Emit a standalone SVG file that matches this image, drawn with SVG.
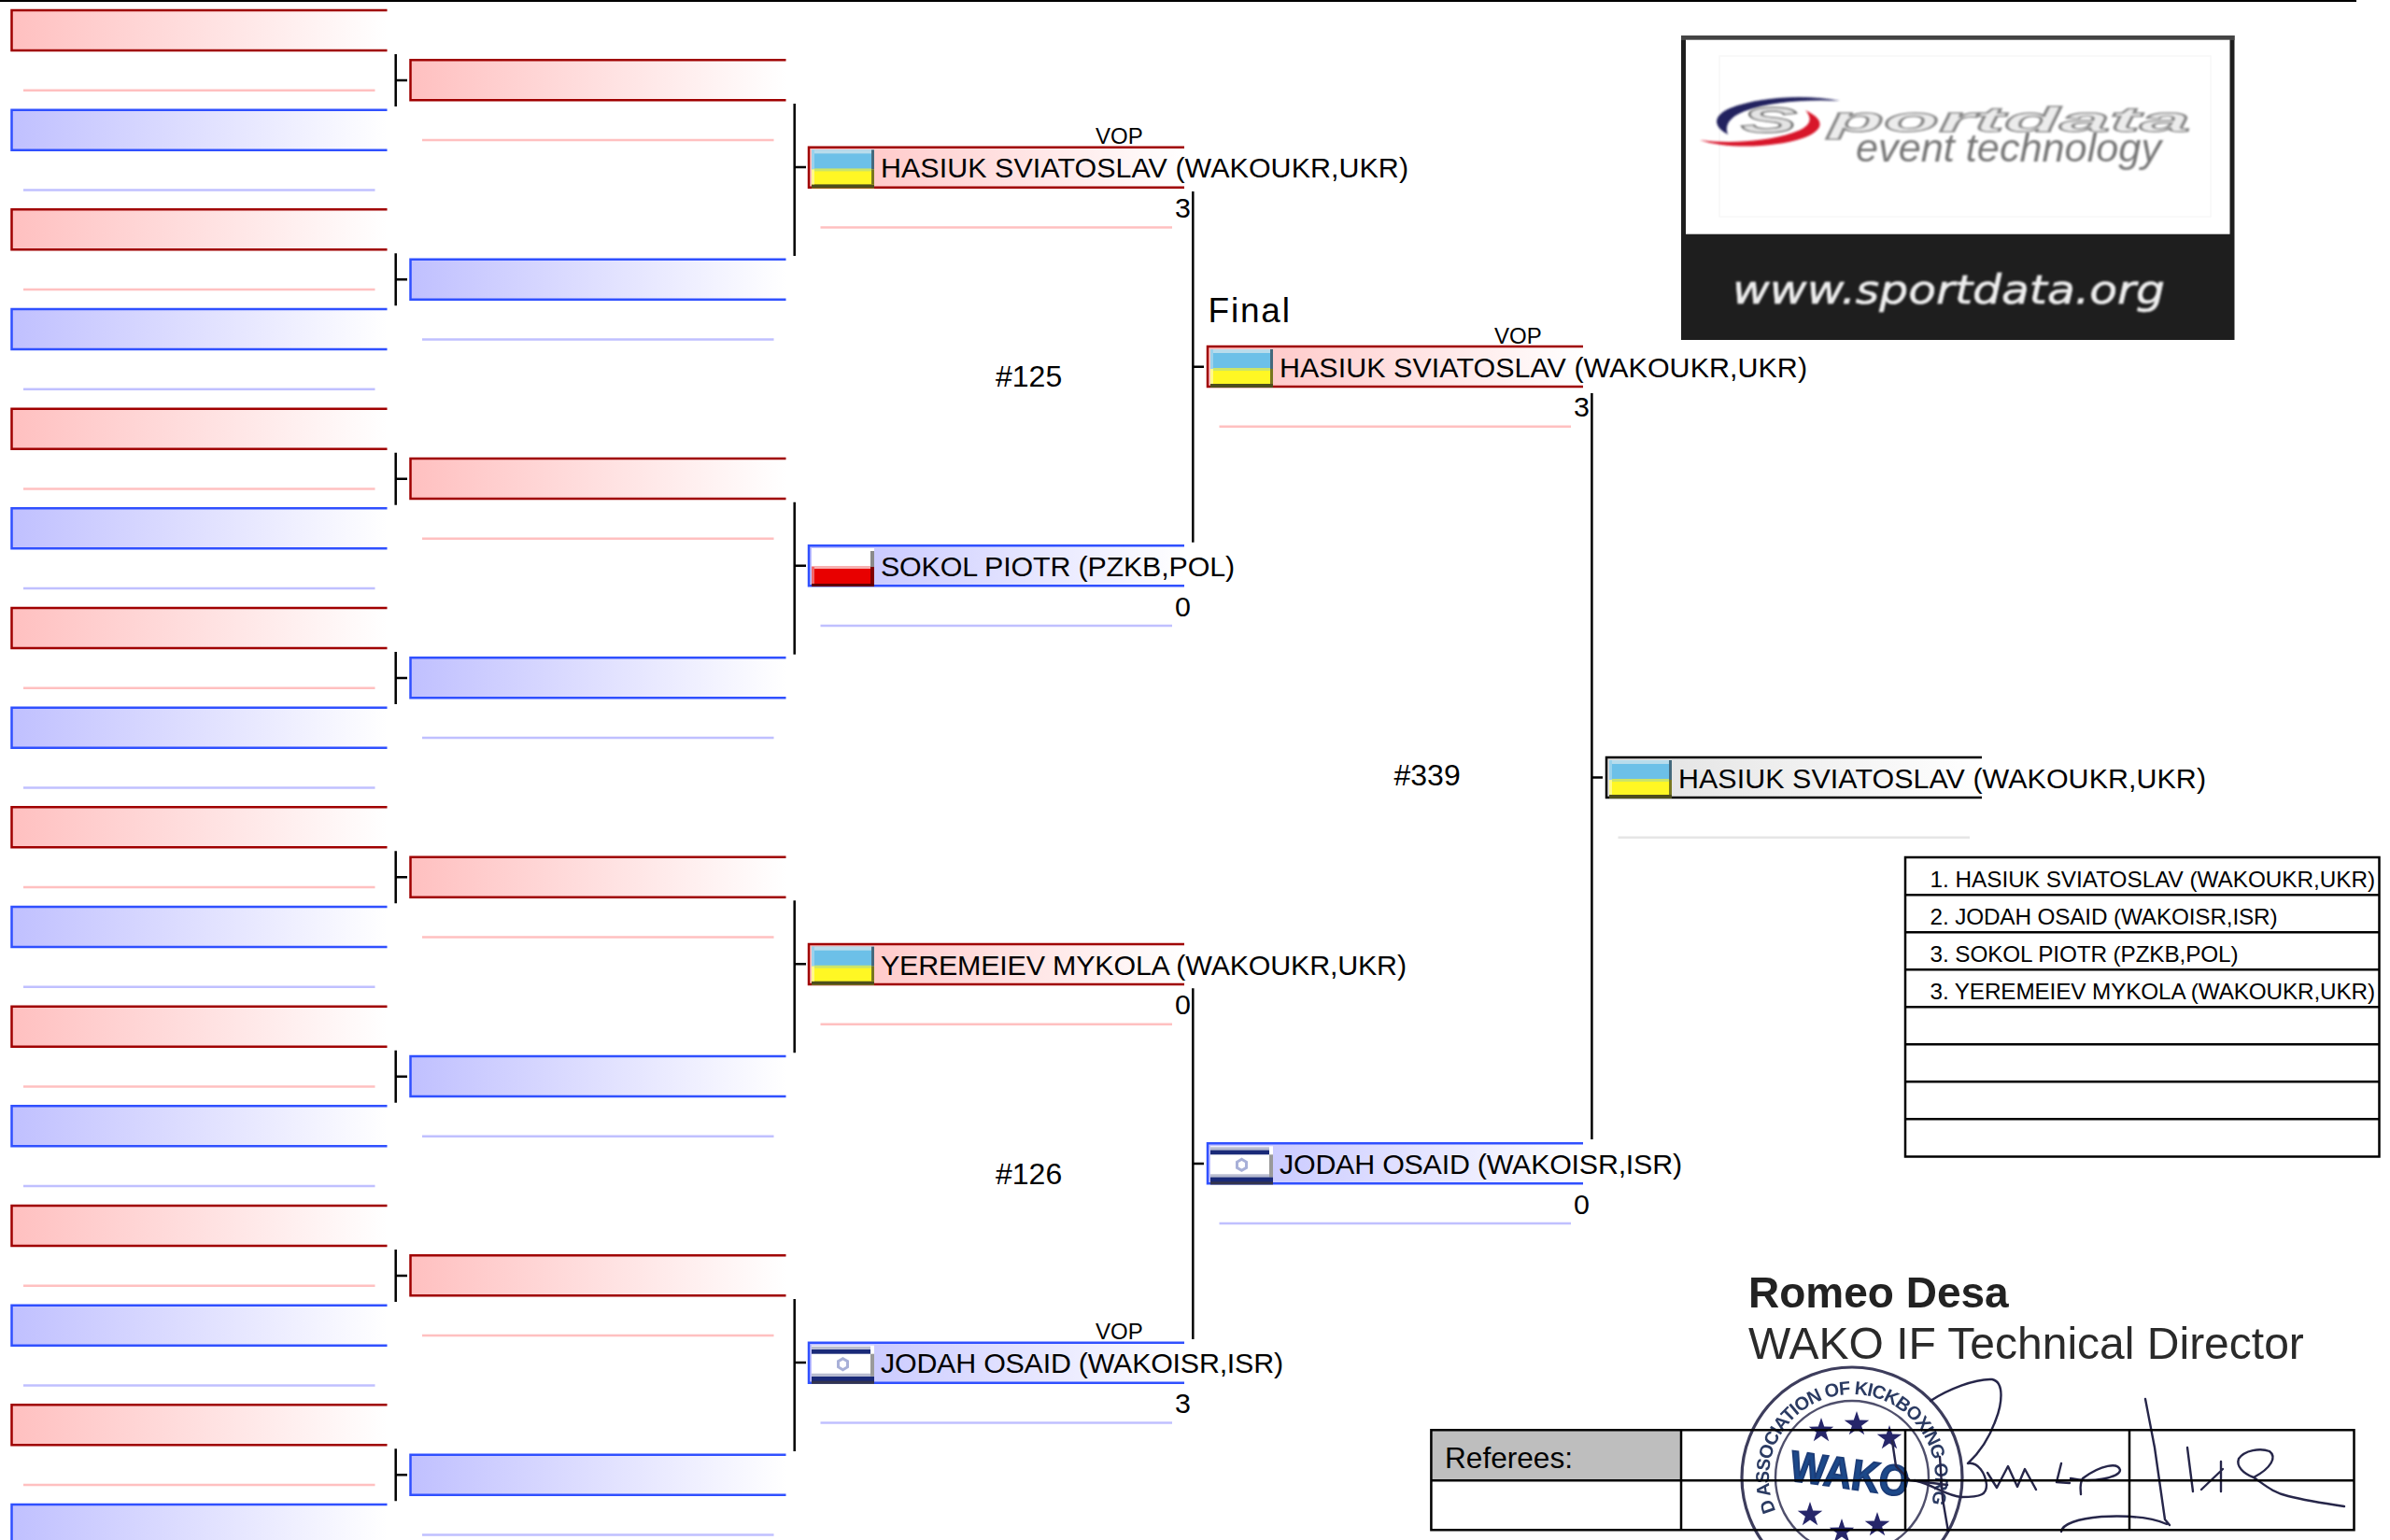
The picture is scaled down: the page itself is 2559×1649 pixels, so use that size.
<svg xmlns="http://www.w3.org/2000/svg" width="2559" height="1649" viewBox="0 0 2559 1649">
<style>
text{font-family:"Liberation Sans",Arial,sans-serif;fill:#000}
.n{font-size:30.4px}
.m{font-size:32px}
.v{font-size:24px}
.t{font-size:24.3px}
.b{fill:none;stroke-width:2.5}
.red{stroke:#a00000}
.blu{stroke:#3050ff}
.blk{stroke:#000}
.ul{stroke-width:2.5;fill:none}
.c{stroke:#000;stroke-width:2.5;fill:none}
.sig{fill:none;stroke:#26264a;stroke-width:2.4;stroke-linecap:round;stroke-linejoin:round}
</style>
<defs>
<linearGradient id="gr"><stop offset="0" stop-color="#ffc0c0"/><stop offset="1" stop-color="#fff"/></linearGradient>
<linearGradient id="gb"><stop offset="0" stop-color="#c0c0ff"/><stop offset="1" stop-color="#fff"/></linearGradient>
<linearGradient id="gk"><stop offset="0" stop-color="#e0e0e0"/><stop offset="1" stop-color="#fff"/></linearGradient>
<filter id="soft" x="-5%" y="-5%" width="110%" height="110%"><feGaussianBlur stdDeviation="0.9"/></filter>
<filter id="soft2" x="-5%" y="-5%" width="110%" height="110%"><feGaussianBlur stdDeviation="0.6"/></filter>
<g id="rb"><rect width="402" height="43" fill="url(#gr)"/><path class="b red" d="M402,0H0V43H402"/><path class="ul" stroke="#ffc0c0" d="M12.5,85.7H389"/></g>
<g id="bb"><rect width="402" height="43" fill="url(#gb)"/><path class="b blu" d="M402,0H0V43H402"/><path class="ul" stroke="#c0c0ff" d="M12.5,85.7H389"/></g>
<g id="kb"><rect width="402" height="43" fill="url(#gk)"/><path class="b blk" d="M402,0H0V43H402"/><path class="ul" stroke="#e6e6e6" d="M12.5,85.7H389"/></g>
<g id="ua">
<rect width="67" height="21" fill="#6cc0e8"/><rect y="21" width="67" height="20" fill="#fff724"/>
<rect width="67" height="4" fill="#b8dcec"/><rect y="20" width="67" height="3" fill="#cce468"/>
<rect y="37" width="67" height="4" fill="#4e4e1c"/>
<rect x="64" width="3" height="21" fill="#44697c"/><rect x="64" y="21" width="3" height="16" fill="#77771f"/>
<rect width="3" height="21" fill="#9ad2ec"/><rect y="21" width="3" height="16" fill="#fff98a"/>
</g>
<g id="pl">
<rect width="67" height="20" fill="#fff"/><rect y="20" width="67" height="21" fill="#e80000"/>
<rect y="19" width="67" height="3" fill="#f6b0b0"/>
<rect y="38" width="67" height="3" fill="#600000"/>
<rect x="63" y="3" width="4" height="17" fill="#8a8a8a"/><rect x="63" y="20" width="4" height="18" fill="#800000"/>
<rect y="20" width="3" height="18" fill="#f06868"/>
</g>
<g id="il">
<rect width="67" height="41" fill="#fff"/>
<rect y="4" width="63" height="5" fill="#1a2a78"/><rect y="1" width="63" height="3" fill="#b8bcd0"/>
<rect y="33" width="67" height="8" fill="#1a2a78"/><rect y="30" width="63" height="3" fill="#b8bcd0"/><rect y="38" width="67" height="3" fill="#33344e"/>
<rect x="63" y="9" width="4" height="24" fill="#9a9a9a"/>
<path d="M33.5,14l5,3v6l-5,3l-5,-3v-6z" fill="none" stroke="#a8b0d8" stroke-width="3"/>
</g>
<polygon id="star" points="0,-14 3.2,-4.4 13.3,-4.3 5.1,1.7 8.2,11.3 0,5.4 -8.2,11.3 -5.1,1.7 -13.3,-4.3 -3.2,-4.4" fill="#27276a"/>
</defs>
<rect width="2559" height="1649" fill="#fff"/>
<rect id="top-rule" width="2523" height="2" fill="#000"/>

<g id="logo">
<rect x="1800" y="38" width="592.5" height="326" fill="#1e1e1e"/>
<rect x="1800" y="38" width="592.5" height="5" fill="#444"/>
<rect x="1805" y="42.7" width="582.5" height="208" fill="#fff"/>
<rect x="1841" y="60" width="526" height="172" fill="none" stroke="#f8f8f8" stroke-width="1.5"/>
<g filter="url(#soft)">
<path d="M1970,108C1935,101 1885,103 1852,116C1836,123 1832,134 1850,144C1846,134 1852,125 1868,119C1895,109 1935,106 1970,108Z" fill="#22225e"/>
<path d="M1820,150C1850,160 1900,158 1930,148C1950,141 1958,130 1933,118C1942,128 1938,136 1920,142C1890,152 1850,154 1820,150Z" fill="#d8142a"/>
<text x="1864" y="142" font-size="38" font-weight="bold" font-style="italic" textLength="60" lengthAdjust="spacingAndGlyphs" style="fill:#e4e4e4;stroke:#777;stroke-width:1.3">S</text>
<text x="1958" y="141" font-size="36" font-weight="bold" font-style="italic" textLength="387" lengthAdjust="spacingAndGlyphs" style="fill:#ececec;stroke:#8a8a8a;stroke-width:1.4">portdata</text>
<text x="1987" y="173" font-size="43" font-style="italic" textLength="327" lengthAdjust="spacingAndGlyphs" style="fill:#777">event technology</text>
<text x="1855" y="325" font-size="42" textLength="463" lengthAdjust="spacingAndGlyphs" style="font-family:'DejaVu Sans',sans-serif;font-style:oblique;fill:#eee;stroke:#eee;stroke-width:.6">www.sportdata.org</text>
</g>
</g>

<g id="connectors">
<path class="c" d="M423.7,58V114M423.7,86H436M423.7,271.3V327.3M423.7,299.3H436M423.7,484.7V540.7M423.7,512.7H436M423.7,698V754M423.7,726H436M423.7,911.3V967.3M423.7,939.3H436M423.7,1124.7V1180.7M423.7,1152.7H436M423.7,1338V1394M423.7,1366H436M423.7,1551.3V1607.3M423.7,1579.3H436"/>
<path class="c" d="M850.7,111V274M850.7,179H863M850.7,537.7V700.7M850.7,605.7H863M850.7,964.3V1127.3M850.7,1032.3H863M850.7,1391V1554M850.7,1459H863"/>
<path class="c" d="M1277.3,205V580.7M1277.3,392.7H1289M1277.3,1058.3V1434M1277.3,1246H1289"/>
<path class="c" d="M1704.4,421V1220M1704.4,832.5H1716"/>
</g>

<g id="round1">
<use id="r1-1" href="#rb" x="12.5" y="11"/><use id="r1-2" href="#bb" x="12.5" y="117.7"/>
<use id="r1-3" href="#rb" x="12.5" y="224.3"/><use id="r1-4" href="#bb" x="12.5" y="331"/>
<use id="r1-5" href="#rb" x="12.5" y="437.7"/><use id="r1-6" href="#bb" x="12.5" y="544.3"/>
<use id="r1-7" href="#rb" x="12.5" y="651"/><use id="r1-8" href="#bb" x="12.5" y="757.7"/>
<use id="r1-9" href="#rb" x="12.5" y="864.3"/><use id="r1-10" href="#bb" x="12.5" y="971"/>
<use id="r1-11" href="#rb" x="12.5" y="1077.7"/><use id="r1-12" href="#bb" x="12.5" y="1184.3"/>
<use id="r1-13" href="#rb" x="12.5" y="1291"/><use id="r1-14" href="#bb" x="12.5" y="1397.7"/>
<use id="r1-15" href="#rb" x="12.5" y="1504.3"/><use id="r1-16" href="#bb" x="12.5" y="1611"/>
</g>
<g id="round2">
<use id="r2-1" href="#rb" x="439.5" y="64.3"/><use id="r2-2" href="#bb" x="439.5" y="277.7"/>
<use id="r2-3" href="#rb" x="439.5" y="491"/><use id="r2-4" href="#bb" x="439.5" y="704.3"/>
<use id="r2-5" href="#rb" x="439.5" y="917.7"/><use id="r2-6" href="#bb" x="439.5" y="1131"/>
<use id="r2-7" href="#rb" x="439.5" y="1344.3"/><use id="r2-8" href="#bb" x="439.5" y="1557.7"/>
</g>

<g id="r3-1"><use href="#rb" x="866" y="157.7"/><use href="#ua" x="869" y="160.4"/>
<text class="v" x="1173" y="154.3">VOP</text><text class="n" x="943" y="190.4" textLength="565">HASIUK SVIATOSLAV (WAKOUKR,UKR)</text><text class="n" x="1258" y="232.7">3</text></g>
<g id="r3-2"><use href="#bb" x="866" y="584.3"/><use href="#pl" x="869" y="587"/>
<text class="n" x="943" y="617" textLength="379">SOKOL PIOTR (PZKB,POL)</text><text class="n" x="1258" y="660">0</text></g>
<g id="r3-3"><use href="#rb" x="866" y="1011"/><use href="#ua" x="869" y="1013.7"/>
<text class="n" x="943" y="1043.7" textLength="563">YEREMEIEV MYKOLA (WAKOUKR,UKR)</text><text class="n" x="1258" y="1086">0</text></g>
<g id="r3-4"><use href="#bb" x="866" y="1437.7"/><use href="#il" x="869" y="1440.7"/>
<text class="v" x="1173" y="1434.3">VOP</text><text class="n" x="943" y="1470.4" textLength="431">JODAH OSAID (WAKOISR,ISR)</text><text class="n" x="1258" y="1512.7">3</text></g>

<text id="m125" class="m" x="1066" y="414">#125</text>
<text id="m126" class="m" x="1066" y="1267.5">#126</text>
<text id="m339" class="m" x="1492.5" y="841">#339</text>
<text id="final-label" x="1293.5" y="345" font-size="37" letter-spacing="1.8">Final</text>

<g id="r4-1"><use href="#rb" x="1293" y="371"/><use href="#ua" x="1296" y="374"/>
<text class="v" x="1600" y="367.6">VOP</text><text class="n" x="1370" y="403.7" textLength="565">HASIUK SVIATOSLAV (WAKOUKR,UKR)</text><text class="n" x="1685" y="446">3</text></g>
<g id="r4-2"><use href="#bb" x="1293" y="1224.3"/><use href="#il" x="1296" y="1227.3"/>
<text class="n" x="1370" y="1257" textLength="431">JODAH OSAID (WAKOISR,ISR)</text><text class="n" x="1685" y="1300">0</text></g>

<g id="winner"><use href="#kb" x="1720" y="811"/><use href="#ua" x="1723" y="814"/>
<text class="n" x="1797" y="843.7" textLength="565">HASIUK SVIATOSLAV (WAKOUKR,UKR)</text></g>

<g id="ranking">
<rect x="2040" y="918" width="507.5" height="320.5" fill="#fff" stroke="#000" stroke-width="2.5"/>
<path class="c" d="M2040,958.3H2547.5M2040,998.3H2547.5M2040,1038.3H2547.5M2040,1078.3H2547.5M2040,1118.3H2547.5M2040,1158.3H2547.5M2040,1198.3H2547.5"/>
<text class="t" x="2066.6" y="950" textLength="476.5">1. HASIUK SVIATOSLAV (WAKOUKR,UKR)</text>
<text class="t" x="2066.6" y="990" textLength="372">2. JODAH OSAID (WAKOISR,ISR)</text>
<text class="t" x="2066.6" y="1030" textLength="330">3. SOKOL PIOTR (PZKB,POL)</text>
<text class="t" x="2066.6" y="1070" textLength="476.5">3. YEREMEIEV MYKOLA (WAKOUKR,UKR)</text>
</g>

<g id="signature">
<rect x="1532.4" y="1531.3" width="267.6" height="54" fill="#bebebe"/>
<g filter="url(#soft2)">
<text x="1872" y="1400" font-size="46" font-weight="bold" style="fill:#222">Romeo Desa</text>
<text x="1872" y="1455" font-size="48" style="fill:#2a2a2a">WAKO IF Technical Director</text>
<circle cx="1983" cy="1582" r="118" fill="none" stroke="#3c3c5c" stroke-width="3.2"/>
<circle cx="1983" cy="1582" r="82" fill="none" stroke="#50506c" stroke-width="2.4"/>
<path id="ring" d="M1901.5,1617.8A89,89 0 1 1 2064.5,1617.8" fill="none"/>
<text font-size="20" font-weight="bold" letter-spacing="0.4" style="fill:#2c3a62"><textPath href="#ring" textLength="345" lengthAdjust="spacing">D ASSOCIATION OF KICKBOXING ORG</textPath></text>
<use href="#star" x="1988" y="1525"/><use href="#star" x="1950" y="1532"/><use href="#star" x="2023" y="1540"/>
<use href="#star" x="1938" y="1622"/><use href="#star" x="2010" y="1633"/><use href="#star" x="1972" y="1640"/>
<text x="1915" y="1585" font-size="46" font-weight="bold" textLength="128" lengthAdjust="spacingAndGlyphs" transform="rotate(8 1915 1585)" style="fill:#1c4a8a;stroke:#1c3c78;stroke-width:2">WAKO</text>
<path class="sig" d="M2067,1500C2085,1488 2115,1476 2133,1477C2147,1480 2143,1505 2137,1520C2130,1540 2120,1555 2107,1567C2118,1565 2126,1578 2127,1590C2127,1600 2122,1603 2100,1603C2085,1602 2070,1590 2050,1585"/>
<path class="sig" d="M2128,1577L2138,1593L2150,1570L2160,1592L2168,1573L2180,1595M2207,1567L2202,1587L2216,1588M2217,1583C2240,1588 2270,1582 2270,1574C2268,1566 2250,1568 2230,1583C2226,1590 2228,1596 2228,1600"/>
<path class="sig" stroke-width="2.8" d="M2297,1498L2307,1550L2318,1627L2323,1633M2207,1640C2208,1632 2225,1626 2250,1624C2270,1623 2300,1623 2320,1632"/>
<path class="sig" d="M2342,1550L2348,1597M2378,1565V1597M2357,1595L2380,1573M2413,1582C2402,1578 2394,1570 2397,1562C2403,1553 2420,1550 2430,1554C2438,1560 2432,1572 2413,1582C2425,1590 2433,1598 2450,1602C2470,1607 2490,1610 2510,1613"/>
<path class="sig" stroke-width="3" d="M2026,1543L2030,1570L2045,1585L2085,1590M2077,1560L2080,1605L2086,1640"/>
</g>
</g>

<g id="referees">
<path class="c" d="M1532.4,1531.3H2520.5V1638.3H1532.4ZM1532.4,1585.3H2520.5M1800,1531.3V1638.3M2040,1531.3V1638.3M2280,1531.3V1638.3"/>
<text x="1547" y="1571.7" font-size="31.6">Referees:</text>
</g>
</svg>
